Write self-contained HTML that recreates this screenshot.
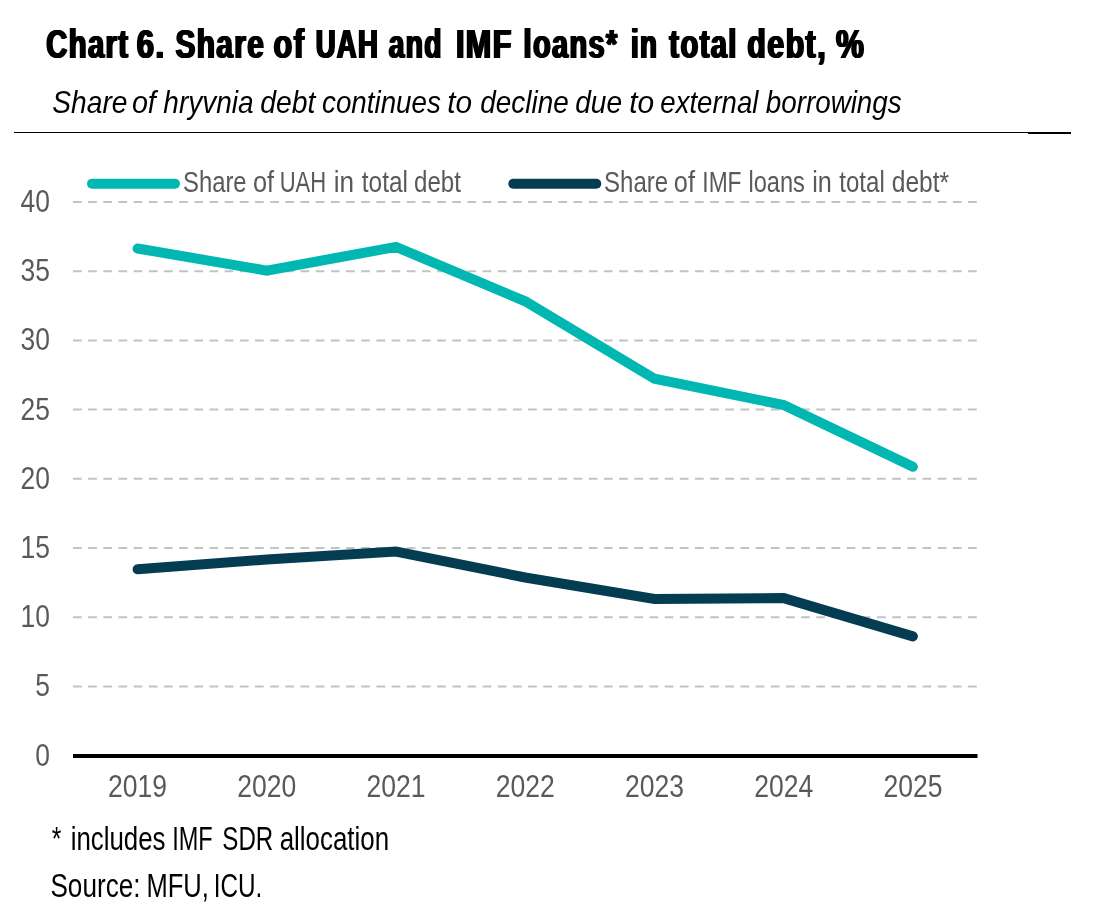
<!DOCTYPE html>
<html lang="en"><head><meta charset="utf-8"><title>Chart 6</title>
<style>
html,body{margin:0;padding:0;background:#fff}
svg{display:block}
text{font-family:"Liberation Sans",sans-serif}
.t{font-weight:700;font-size:41.5px;letter-spacing:2px;fill:#000;filter:drop-shadow(1px 0 0 #000) drop-shadow(-1px 0 0 #000)}
.s{font-style:italic;font-size:31.5px;fill:#000}
.l{font-size:30px;fill:#595959}
.k{font-size:31px;fill:#595959}
.f{font-size:32.6px;fill:#000}
</style></head><body>
<svg width="1100" height="920" viewBox="0 0 1100 920">
<rect width="1100" height="920" fill="#fff"/>
<text class="t" y="58.2"><tspan x="46.23" textLength="83.23" lengthAdjust="spacingAndGlyphs">Chart</tspan> <tspan x="136.75" textLength="29.00" lengthAdjust="spacingAndGlyphs">6.</tspan> <tspan x="175.39" textLength="89.92" lengthAdjust="spacingAndGlyphs">Share</tspan> <tspan x="273.49" textLength="31.88" lengthAdjust="spacingAndGlyphs">of</tspan> <tspan x="315.66" textLength="63.53" lengthAdjust="spacingAndGlyphs">UAH</tspan> <tspan x="388.82" textLength="53.98" lengthAdjust="spacingAndGlyphs">and</tspan> <tspan x="455.91" textLength="56.93" lengthAdjust="spacingAndGlyphs">IMF</tspan> <tspan x="523.46" textLength="95.27" lengthAdjust="spacingAndGlyphs">loans*</tspan> <tspan x="631.11" textLength="27.22" lengthAdjust="spacingAndGlyphs">in</tspan> <tspan x="669.36" textLength="68.51" lengthAdjust="spacingAndGlyphs">total</tspan> <tspan x="747.30" textLength="79.79" lengthAdjust="spacingAndGlyphs">debt,</tspan> <tspan x="835.98" textLength="29.39" lengthAdjust="spacingAndGlyphs">%</tspan></text>
<text class="s" y="112.8"><tspan x="52.35" textLength="75.08" lengthAdjust="spacingAndGlyphs">Share</tspan> <tspan x="131.89" textLength="23.94" lengthAdjust="spacingAndGlyphs">of</tspan> <tspan x="163.30" textLength="90.35" lengthAdjust="spacingAndGlyphs">hryvnia</tspan> <tspan x="260.29" textLength="55.05" lengthAdjust="spacingAndGlyphs">debt</tspan> <tspan x="322.06" textLength="118.74" lengthAdjust="spacingAndGlyphs">continues</tspan> <tspan x="447.30" textLength="24.86" lengthAdjust="spacingAndGlyphs">to</tspan> <tspan x="480.34" textLength="88.33" lengthAdjust="spacingAndGlyphs">decline</tspan> <tspan x="575.16" textLength="46.84" lengthAdjust="spacingAndGlyphs">due</tspan> <tspan x="629.20" textLength="24.91" lengthAdjust="spacingAndGlyphs">to</tspan> <tspan x="660.34" textLength="98.00" lengthAdjust="spacingAndGlyphs">external</tspan> <tspan x="765.77" textLength="135.90" lengthAdjust="spacingAndGlyphs">borrowings</tspan></text>
<rect x="14" y="132" width="1014" height="1" fill="#000"/>
<rect x="1028" y="132" width="43" height="2" fill="#000"/>
<line x1="73.0" x2="977.5" y1="686.4" y2="686.4" stroke="#c0c4c4" stroke-width="2" stroke-dasharray="8.7 6.47"/>
<line x1="73.0" x2="977.5" y1="617.2" y2="617.2" stroke="#c0c4c4" stroke-width="2" stroke-dasharray="8.7 6.47"/>
<line x1="73.0" x2="977.5" y1="548.0" y2="548.0" stroke="#c0c4c4" stroke-width="2" stroke-dasharray="8.7 6.47"/>
<line x1="73.0" x2="977.5" y1="478.8" y2="478.8" stroke="#c0c4c4" stroke-width="2" stroke-dasharray="8.7 6.47"/>
<line x1="73.0" x2="977.5" y1="409.6" y2="409.6" stroke="#c0c4c4" stroke-width="2" stroke-dasharray="8.7 6.47"/>
<line x1="73.0" x2="977.5" y1="340.4" y2="340.4" stroke="#c0c4c4" stroke-width="2" stroke-dasharray="8.7 6.47"/>
<line x1="73.0" x2="977.5" y1="271.2" y2="271.2" stroke="#c0c4c4" stroke-width="2" stroke-dasharray="8.7 6.47"/>
<line x1="73.0" x2="977.5" y1="202.0" y2="202.0" stroke="#c0c4c4" stroke-width="2" stroke-dasharray="8.7 6.47"/>
<rect x="73.0" y="754" width="904.5" height="4" fill="#000"/>
<text class="k" x="50" y="765.6" text-anchor="end" textLength="14.7" lengthAdjust="spacingAndGlyphs">0</text>
<text class="k" x="50" y="696.4" text-anchor="end" textLength="14.7" lengthAdjust="spacingAndGlyphs">5</text>
<text class="k" x="50" y="627.2" text-anchor="end" textLength="29.4" lengthAdjust="spacingAndGlyphs">10</text>
<text class="k" x="50" y="558.0" text-anchor="end" textLength="29.4" lengthAdjust="spacingAndGlyphs">15</text>
<text class="k" x="50" y="488.8" text-anchor="end" textLength="29.4" lengthAdjust="spacingAndGlyphs">20</text>
<text class="k" x="50" y="419.6" text-anchor="end" textLength="29.4" lengthAdjust="spacingAndGlyphs">25</text>
<text class="k" x="50" y="350.4" text-anchor="end" textLength="29.4" lengthAdjust="spacingAndGlyphs">30</text>
<text class="k" x="50" y="281.2" text-anchor="end" textLength="29.4" lengthAdjust="spacingAndGlyphs">35</text>
<text class="k" x="50" y="212.0" text-anchor="end" textLength="29.4" lengthAdjust="spacingAndGlyphs">40</text>
<text class="k" x="137.6" y="797.4" text-anchor="middle" textLength="59" lengthAdjust="spacingAndGlyphs">2019</text>
<text class="k" x="266.8" y="797.4" text-anchor="middle" textLength="59" lengthAdjust="spacingAndGlyphs">2020</text>
<text class="k" x="396.0" y="797.4" text-anchor="middle" textLength="59" lengthAdjust="spacingAndGlyphs">2021</text>
<text class="k" x="525.2" y="797.4" text-anchor="middle" textLength="59" lengthAdjust="spacingAndGlyphs">2022</text>
<text class="k" x="654.5" y="797.4" text-anchor="middle" textLength="59" lengthAdjust="spacingAndGlyphs">2023</text>
<text class="k" x="783.7" y="797.4" text-anchor="middle" textLength="59" lengthAdjust="spacingAndGlyphs">2024</text>
<text class="k" x="912.9" y="797.4" text-anchor="middle" textLength="59" lengthAdjust="spacingAndGlyphs">2025</text>
<line x1="92" x2="175" y1="183.7" y2="183.7" stroke="#00b8b1" stroke-width="10" stroke-linecap="round"/>
<line x1="513.3" x2="596.3" y1="183.7" y2="183.7" stroke="#043c52" stroke-width="10" stroke-linecap="round"/>
<text class="l" y="192.2"><tspan x="182.99" textLength="63.63" lengthAdjust="spacingAndGlyphs">Share</tspan> <tspan x="253.02" textLength="21.11" lengthAdjust="spacingAndGlyphs">of</tspan> <tspan x="279.73" textLength="46.48" lengthAdjust="spacingAndGlyphs">UAH</tspan> <tspan x="333.68" textLength="20.36" lengthAdjust="spacingAndGlyphs">in</tspan> <tspan x="361.84" textLength="46.12" lengthAdjust="spacingAndGlyphs">total</tspan> <tspan x="414.06" textLength="46.87" lengthAdjust="spacingAndGlyphs">debt</tspan></text>
<text class="l" y="192.2"><tspan x="604.08" textLength="64.11" lengthAdjust="spacingAndGlyphs">Share</tspan> <tspan x="673.87" textLength="21.10" lengthAdjust="spacingAndGlyphs">of</tspan> <tspan x="702.34" textLength="39.20" lengthAdjust="spacingAndGlyphs">IMF</tspan> <tspan x="748.42" textLength="56.44" lengthAdjust="spacingAndGlyphs">loans</tspan> <tspan x="812.25" textLength="19.68" lengthAdjust="spacingAndGlyphs">in</tspan> <tspan x="839.28" textLength="45.47" lengthAdjust="spacingAndGlyphs">total</tspan> <tspan x="891.70" textLength="57.52" lengthAdjust="spacingAndGlyphs">debt*</tspan></text>
<polyline points="137.6,248.5 266.8,270.6 396.0,246.9 525.2,301.3 654.5,378.7 783.7,405.0 912.9,466.8" fill="none" stroke="#00b8b1" stroke-width="10" stroke-linecap="round" stroke-linejoin="miter"/>
<polyline points="137.6,569.3 266.8,559.5 396.0,551.6 525.2,577.5 654.5,598.9 783.7,598.1 912.9,636.4" fill="none" stroke="#043c52" stroke-width="10" stroke-linecap="round" stroke-linejoin="miter"/>
<text class="f" y="849.6"><tspan x="51.70" textLength="9.67" lengthAdjust="spacingAndGlyphs">*</tspan> <tspan x="70.64" textLength="94.93" lengthAdjust="spacingAndGlyphs">includes</tspan> <tspan x="172.22" textLength="40.48" lengthAdjust="spacingAndGlyphs">IMF</tspan> <tspan x="222.35" textLength="50.90" lengthAdjust="spacingAndGlyphs">SDR</tspan> <tspan x="279.73" textLength="109.37" lengthAdjust="spacingAndGlyphs">allocation</tspan></text>
<text class="f" y="897.0"><tspan x="50.44" textLength="90.06" lengthAdjust="spacingAndGlyphs">Source:</tspan> <tspan x="146.40" textLength="62.40" lengthAdjust="spacingAndGlyphs">MFU,</tspan> <tspan x="213.76" textLength="48.57" lengthAdjust="spacingAndGlyphs">ICU.</tspan></text>
</svg></body></html>
